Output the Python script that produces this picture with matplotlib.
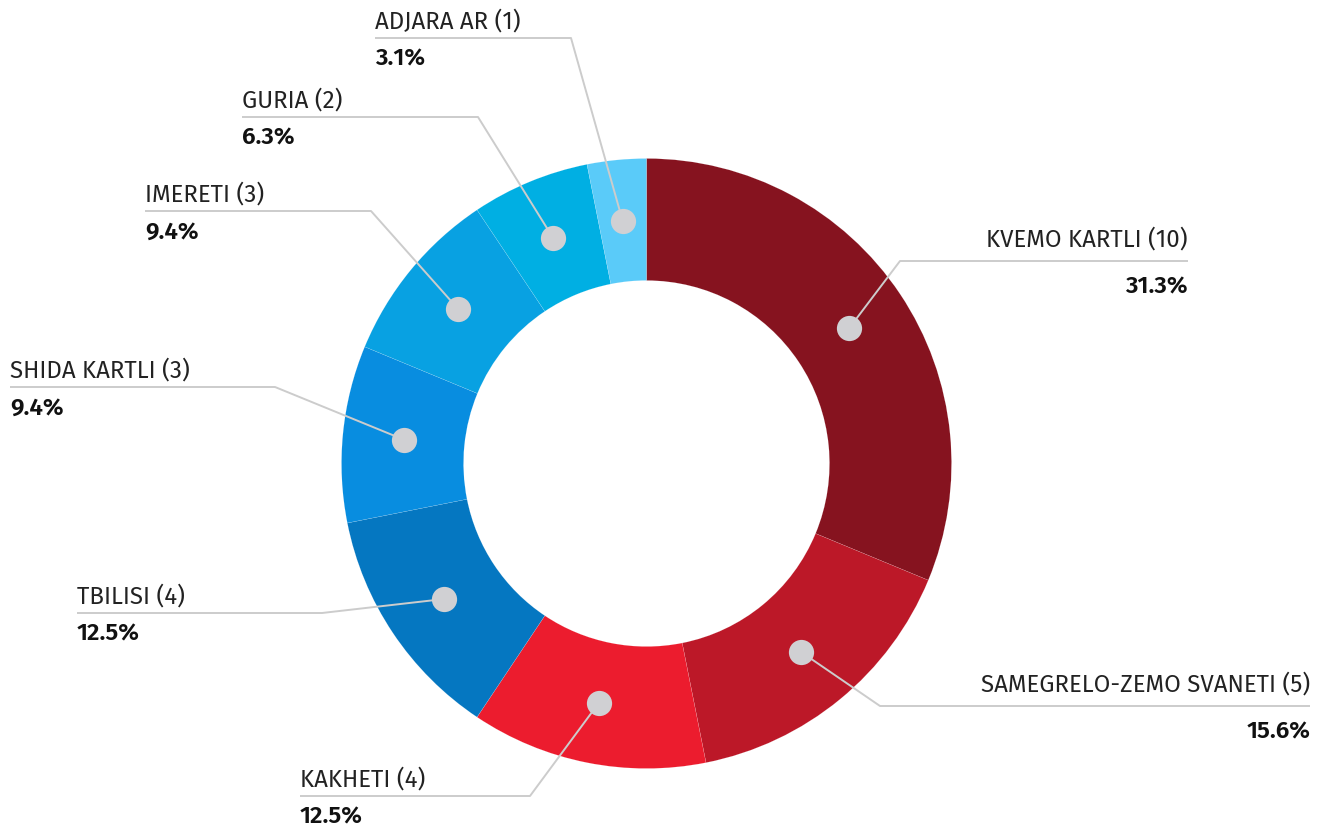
import matplotlib
matplotlib.use("Agg")
import matplotlib.pyplot as plt
import numpy as np
from decimal import Decimal, ROUND_HALF_UP

# ---- data ----
regions = ["KVEMO KARTLI", "SAMEGRELO-ZEMO SVANETI", "KAKHETI", "TBILISI",
           "SHIDA KARTLI", "IMERETI", "GURIA", "ADJARA AR"]
counts = [10, 5, 4, 4, 3, 3, 2, 1]
colors = ["#86131F", "#BC1828", "#EC1C2E", "#0577C1", "#088DE0", "#08A1E2", "#00AFE3", "#5ACBF9"]

# ---- layout (pixel coordinates, y measured from top) ----
W, H = 1327, 829
cx, cy = 646.5, 464.5
R_out, R_in = 305, 183
# bend point of connector, end x of horizontal line, side of label
bend_pts = [(900, 262), (880, 707), (530, 797), (322, 614),
            (275, 388), (371, 212), (478, 118), (571, 39)]
line_end_x = [1188, 1310, 300, 77, 10, 145, 242, 375]
sides = ["right", "right", "left", "left", "left", "left", "left", "left"]

plt.rcParams['font.family'] = ['Fira Sans', 'Noto Sans', 'DejaVu Sans']

fig = plt.figure(figsize=(W / 100, H / 100), dpi=100)
ax = fig.add_axes([0, 0, 1, 1])

def fy(y):
    return H - y

wedges, _ = ax.pie(counts, startangle=90, counterclock=False, radius=R_out,
                   center=(cx, fy(cy)), colors=colors,
                   wedgeprops=dict(width=R_out - R_in, edgecolor="#FFFFFF80", linewidth=0.15))
ax.set_xlim(0, W)
ax.set_ylim(0, H)
ax.set_aspect("equal")
ax.axis("off")

total = sum(counts)
cum = np.cumsum([0] + counts)
r_mid = (R_out + R_in) / 2
line_col = "#CCCCCC"
for i, name in enumerate(regions):
    frac_mid = (cum[i] + counts[i] / 2) / total
    ang = np.deg2rad(90 - 360 * frac_mid)
    dx_, dy_ = cx + r_mid * np.cos(ang), fy(cy) + r_mid * np.sin(ang)
    bx, by = bend_pts[i]
    ex = line_end_x[i]
    ax.plot([dx_, bx, ex], [dy_, fy(by), fy(by)], color=line_col, lw=1.4,
            solid_capstyle="butt", zorder=3)
    ax.scatter([dx_], [dy_], s=330, color="#D0D0D3", zorder=4, linewidths=0)
    pct_val = Decimal(100 * counts[i]) / Decimal(total)
    pct = f"{pct_val.quantize(Decimal('0.1'), rounding=ROUND_HALF_UP)}%"
    label = f"{name} ({counts[i]})"
    if sides[i] == "right":
        ha = "right"
        up, down = 23, 25
    else:
        ha = "left"
        up, down = 18, 20
    ax.text(ex, fy(by - up), label, ha=ha, va="center", fontsize=17.3, color="#222222")
    ax.text(ex, fy(by + down), pct, ha=ha, va="center", fontsize=17.5,
            fontweight="semibold", color="#111111")

fig.savefig("out.png", dpi=100)
